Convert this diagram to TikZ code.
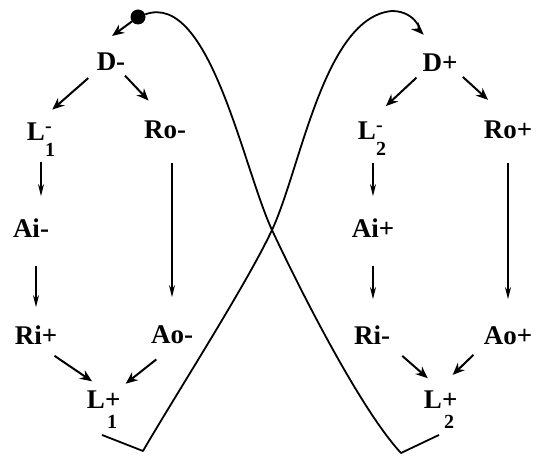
\documentclass[tikz,border=0pt]{standalone}
\usepackage{fontspec}
\setmainfont{Liberation Serif}
\usepackage{tikz}
\usetikzlibrary{arrows.meta}

\newcommand{\subsz}{\fontsize{20}{20}\selectfont}
\newcommand{\Lminus}[1]{L\rlap{\raisebox{8pt}{\subsz -}}\raisebox{-16pt}{\subsz #1}}
\newcommand{\Lplus}[1]{L\rlap{+}\raisebox{-20pt}{\hspace{2pt}\subsz #1}}

\begin{document}
\begin{tikzpicture}[x=1pt, y=1pt,
  term/.style={inner sep=3pt, text height=17.5pt, text depth=0pt, font=\fontsize{27}{32}\selectfont\bfseries},
  arrow/.style={-{Stealth[length=12pt, width=10pt]}, line width=2pt},
  varrow/.style={-{Stealth[length=12pt, width=6pt]}, line width=1.2pt},
  swing/.style={line width=1.8pt, line join=round},
  dot/.style={circle, fill, inner sep=0pt, minimum size=15pt}]

  \useasboundingbox (0,0) rectangle (536,-457);

  \node[term] (dm)  at (111,-61.5) {D-};
  \node[term] (l1m) at (41,-131.5)  {\Lminus{1}};
  \node[term] (rom) at (165,-130)   {Ro-};
  \node[term] (aim) at (31,-229)    {Ai-};
  \node[term] (rip) at (36,-336)    {Ri+};
  \node[term] (aom) at (172,-335)   {Ao-};
  \node[term] (l1p) at (102,-400)   {\Lplus{1}};

  \node[term] (dp)  at (440,-63)    {D+};
  \node[term] (l2m) at (372,-131)   {\Lminus{2}};
  \node[term] (rop) at (508,-130)   {Ro+};
  \node[term] (aip) at (373,-229)   {Ai+};
  \node[term] (rim) at (372,-336)   {Ri-};
  \node[term] (aop) at (508,-336)   {Ao+};
  \node[term] (l2p) at (439,-400)   {\Lplus{2}};

  \node[dot] (dot) at (138,-17) {};

  \draw[arrow, shorten <=7pt, shorten >=15pt] (dm.south west) -- (l1m.north);
  \draw[arrow, shorten <=3pt, shorten >=24pt] (dm.-45) -- (rom.north);
  \draw[varrow, shorten <=19pt, shorten >=21pt] (l1m.south) -- (l1m.south |- aim.north);
  \draw[varrow, shorten <=25pt, shorten >=17pt] (aim.south -| rip.north) -- (rip.north);
  \draw[varrow, shorten <=21pt, shorten >=26pt] (rom.south -| aom.north) -- (aom.north);
  \draw[arrow, shorten <=14pt, shorten >=12pt] (rip.-60) -- (l1p.north);
  \draw[arrow, shorten <=20pt, shorten >=7pt] (aom.south) -- (l1p.north east);

  \draw[arrow, shorten <=4pt, shorten >=19pt] (dp.south west) -- (l2m.north);
  \draw[arrow, shorten <=3pt, shorten >=27pt] (dp.south east) -- (rop.north);
  \draw[varrow, shorten <=20pt, shorten >=21pt] (l2m.south -| aip.north) -- (aip.north);
  \draw[varrow, shorten <=25pt, shorten >=25pt] (aip.south) -- (aip.south |- rim.north);
  \draw[varrow, shorten <=21pt, shorten >=25pt] (rop.south -| aop.north) -- (aop.north);
  \draw[arrow, shorten <=12pt, shorten >=15pt] (rim.south east) -- (l2p.north);
  \draw[arrow, shorten <=10pt, shorten >=19pt] (aop.south west) -- (l2p.north);

  \draw[arrow, shorten >=23pt] (dot) -- (dm.north west);

  \draw[swing, -{Stealth[length=13pt, width=10pt]}, shorten >=23pt]
    ([yshift=-23pt]l1p.south) -- (143,-451) to[out=60, in=245, looseness=0.6] (272,-230)
    to[out=65, in=185, looseness=0.7] (392,-11) to[out=0, in=135] (dp.north);
  \draw[swing]
    ([yshift=-23pt]l2p.south) -- (401,-453) to[out=133, in=-65, looseness=0.6] (272,-230)
    to[out=115, in=20, looseness=0.7] (dot);

\end{tikzpicture}
\end{document}
